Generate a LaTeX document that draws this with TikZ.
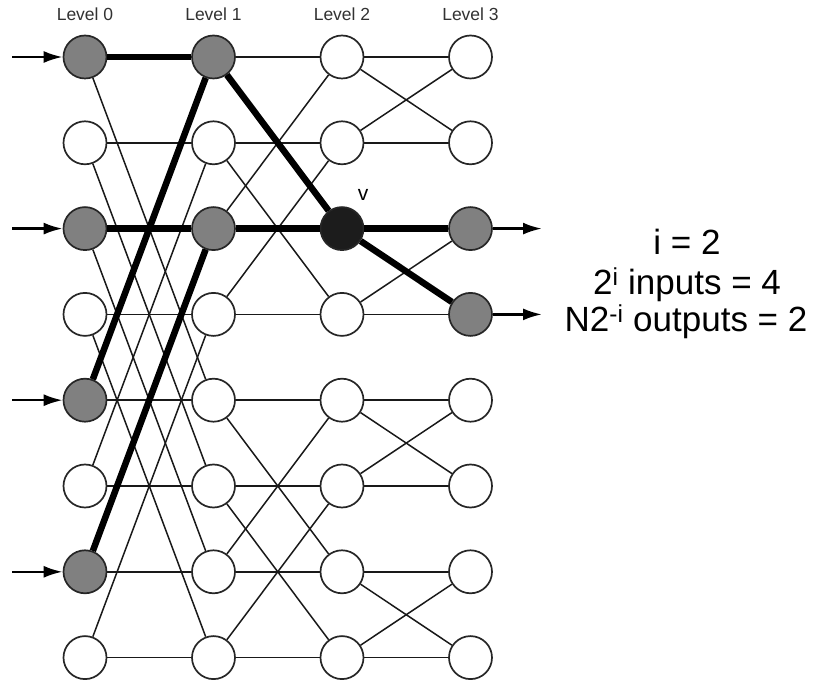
\documentclass[tikz,border=0pt]{standalone}
\usepackage{fontspec}
\setmainfont{Liberation Sans}
\usetikzlibrary{arrows.meta,backgrounds}
\definecolor{ndgray}{RGB}{128,128,128}
\definecolor{vblack}{RGB}{28,28,28}
\definecolor{lblgray}{RGB}{50,50,50}
\begin{document}
\begin{tikzpicture}[x=1pt,y=-1pt,
  nd/.style={circle,draw=black!85,line width=1.7pt,minimum size=43pt,inner sep=0pt,fill=white},
  thinedge/.style={line width=1.5pt,black!90},
  thickedge/.style={line width=6.5pt,black},
  arr/.style={line width=2.5pt,-{Latex[length=19pt,width=12pt]}},
  lvl/.style={font=\fontsize{17.5}{20}\selectfont,text=lblgray},
  big/.style={font=\fontsize{35}{40}\selectfont,anchor=base},
  f00/.style={fill=ndgray},f02/.style={fill=ndgray},f04/.style={fill=ndgray},f06/.style={fill=ndgray},
  f10/.style={fill=ndgray},f12/.style={fill=ndgray},
  f32/.style={fill=ndgray},f33/.style={fill=ndgray},
  f22/.style={fill=vblack}]
\useasboundingbox (0,0) rectangle (815,684);
\foreach \l/\x in {0/85,1/213.5,2/342,3/470.5}{
  \foreach \r in {0,...,7}{
    \node[nd,/tikz/f\l\r/.try] (n\l\r) at (\x,{57+85.8*\r}) {};
  }
  \node[lvl] (lv\l) at (\x,14.5) {Level \l};
}
\node (vlab) at (363,195) {\fontsize{21}{24}\selectfont v};
\begin{scope}[on background layer]
  \foreach \r in {0,...,7}{
    \draw[thinedge] (n0\r) -- (n1\r);
    \draw[thinedge] (n1\r) -- (n2\r);
    \draw[thinedge] (n2\r) -- (n3\r);
  }
  \foreach \a/\b in {0/4,1/5,2/6,3/7,4/0,5/1,6/2,7/3}{\draw[thinedge] (n0\a) -- (n1\b);}
  \foreach \a/\b in {0/2,1/3,2/0,3/1,4/6,5/7,6/4,7/5}{\draw[thinedge] (n1\a) -- (n2\b);}
  \foreach \a/\b in {0/1,1/0,2/3,3/2,4/5,5/4,6/7,7/6}{\draw[thinedge] (n2\a) -- (n3\b);}
\end{scope}
\foreach \a/\b in {00/10,02/12,04/10,06/12,10/22,12/22,22/32,22/33}{\draw[thickedge] (n\a) -- (n\b);}
\foreach \r in {0,2,4,6}{
  \coordinate (in\r) at (12,{57+85.8*\r});
  \draw[arr] (in\r) -- (n0\r);
}
\foreach \r in {2,3}{
  \coordinate (out\r) at (542,{57+85.8*\r});
  \draw[arr] (n3\r) -- (out\r);
}
\node[big] (t1) at (687,255) {i = 2};
\node[big] (t2) at (687,295) {2\textsuperscript{i} inputs = 4};
\node[big] (t3) at (686,332) {N2\textsuperscript{-i} outputs = 2};
\end{tikzpicture}
\end{document}
